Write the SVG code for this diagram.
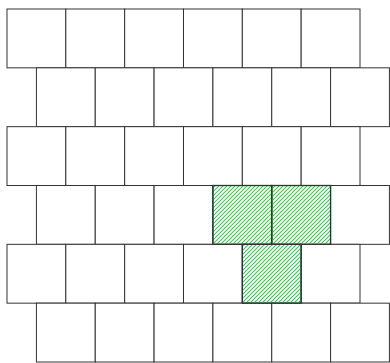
<svg xmlns="http://www.w3.org/2000/svg" width="390" height="363" viewBox="0 0 390 363">
<defs>
<pattern id="hatch" patternUnits="userSpaceOnUse" width="2.83" height="10" patternTransform="rotate(45)">
<rect x="0" y="0" width="1" height="10" fill="#4cbb5a"/>
</pattern>
<style>
.b{fill:#fff;stroke:#333;stroke-width:1}
.h{fill:url(#hatch);stroke:#333;stroke-width:1.3}
</style>
</defs>
<rect width="390" height="363" fill="#fff"/>
<g id="row1">
<rect id="b1_1" class="b" x="7" y="9" width="58.83" height="58.83"/>
<rect id="b1_2" class="b" x="65.83" y="9" width="58.83" height="58.83"/>
<rect id="b1_3" class="b" x="124.67" y="9" width="58.83" height="58.83"/>
<rect id="b1_4" class="b" x="183.5" y="9" width="58.83" height="58.83"/>
<rect id="b1_5" class="b" x="242.33" y="9" width="58.83" height="58.83"/>
<rect id="b1_6" class="b" x="301.17" y="9" width="58.83" height="58.83"/>
</g>
<g id="row2">
<rect id="b2_1" class="b" x="36.42" y="67.83" width="58.83" height="58.83"/>
<rect id="b2_2" class="b" x="95.25" y="67.83" width="58.83" height="58.83"/>
<rect id="b2_3" class="b" x="154.08" y="67.83" width="58.83" height="58.83"/>
<rect id="b2_4" class="b" x="212.92" y="67.83" width="58.83" height="58.83"/>
<rect id="b2_5" class="b" x="271.75" y="67.83" width="58.83" height="58.83"/>
<rect id="b2_6" class="b" x="330.58" y="67.83" width="58.83" height="58.83"/>
</g>
<g id="row3">
<rect id="b3_1" class="b" x="7" y="126.67" width="58.83" height="58.83"/>
<rect id="b3_2" class="b" x="65.83" y="126.67" width="58.83" height="58.83"/>
<rect id="b3_3" class="b" x="124.67" y="126.67" width="58.83" height="58.83"/>
<rect id="b3_4" class="b" x="183.5" y="126.67" width="58.83" height="58.83"/>
<rect id="b3_5" class="b" x="242.33" y="126.67" width="58.83" height="58.83"/>
<rect id="b3_6" class="b" x="301.17" y="126.67" width="58.83" height="58.83"/>
</g>
<g id="row4">
<rect id="b4_1" class="b" x="36.42" y="185.5" width="58.83" height="58.83"/>
<rect id="b4_2" class="b" x="95.25" y="185.5" width="58.83" height="58.83"/>
<rect id="b4_3" class="b" x="154.08" y="185.5" width="58.83" height="58.83"/>
<rect id="b4_4" class="b" x="212.92" y="185.5" width="58.83" height="58.83"/>
<rect id="b4_5" class="b" x="271.75" y="185.5" width="58.83" height="58.83"/>
<rect id="b4_6" class="b" x="330.58" y="185.5" width="58.83" height="58.83"/>
</g>
<g id="row5">
<rect id="b5_1" class="b" x="7" y="244.33" width="58.83" height="58.83"/>
<rect id="b5_2" class="b" x="65.83" y="244.33" width="58.83" height="58.83"/>
<rect id="b5_3" class="b" x="124.67" y="244.33" width="58.83" height="58.83"/>
<rect id="b5_4" class="b" x="183.5" y="244.33" width="58.83" height="58.83"/>
<rect id="b5_5" class="b" x="242.33" y="244.33" width="58.83" height="58.83"/>
<rect id="b5_6" class="b" x="301.17" y="244.33" width="58.83" height="58.83"/>
</g>
<g id="row6">
<rect id="b6_1" class="b" x="36.42" y="303.17" width="58.83" height="58.83"/>
<rect id="b6_2" class="b" x="95.25" y="303.17" width="58.83" height="58.83"/>
<rect id="b6_3" class="b" x="154.08" y="303.17" width="58.83" height="58.83"/>
<rect id="b6_4" class="b" x="212.92" y="303.17" width="58.83" height="58.83"/>
<rect id="b6_5" class="b" x="271.75" y="303.17" width="58.83" height="58.83"/>
<rect id="b6_6" class="b" x="330.58" y="303.17" width="58.83" height="58.83"/>
</g>
<g id="highlight">
<rect id="h4_4" class="h" x="212.92" y="185.5" width="58.83" height="58.83"/>
<rect id="h4_5" class="h" x="271.75" y="185.5" width="58.83" height="58.83"/>
<rect id="h5_5" class="h" x="242.33" y="244.33" width="58.83" height="58.83"/>
</g>
</svg>
